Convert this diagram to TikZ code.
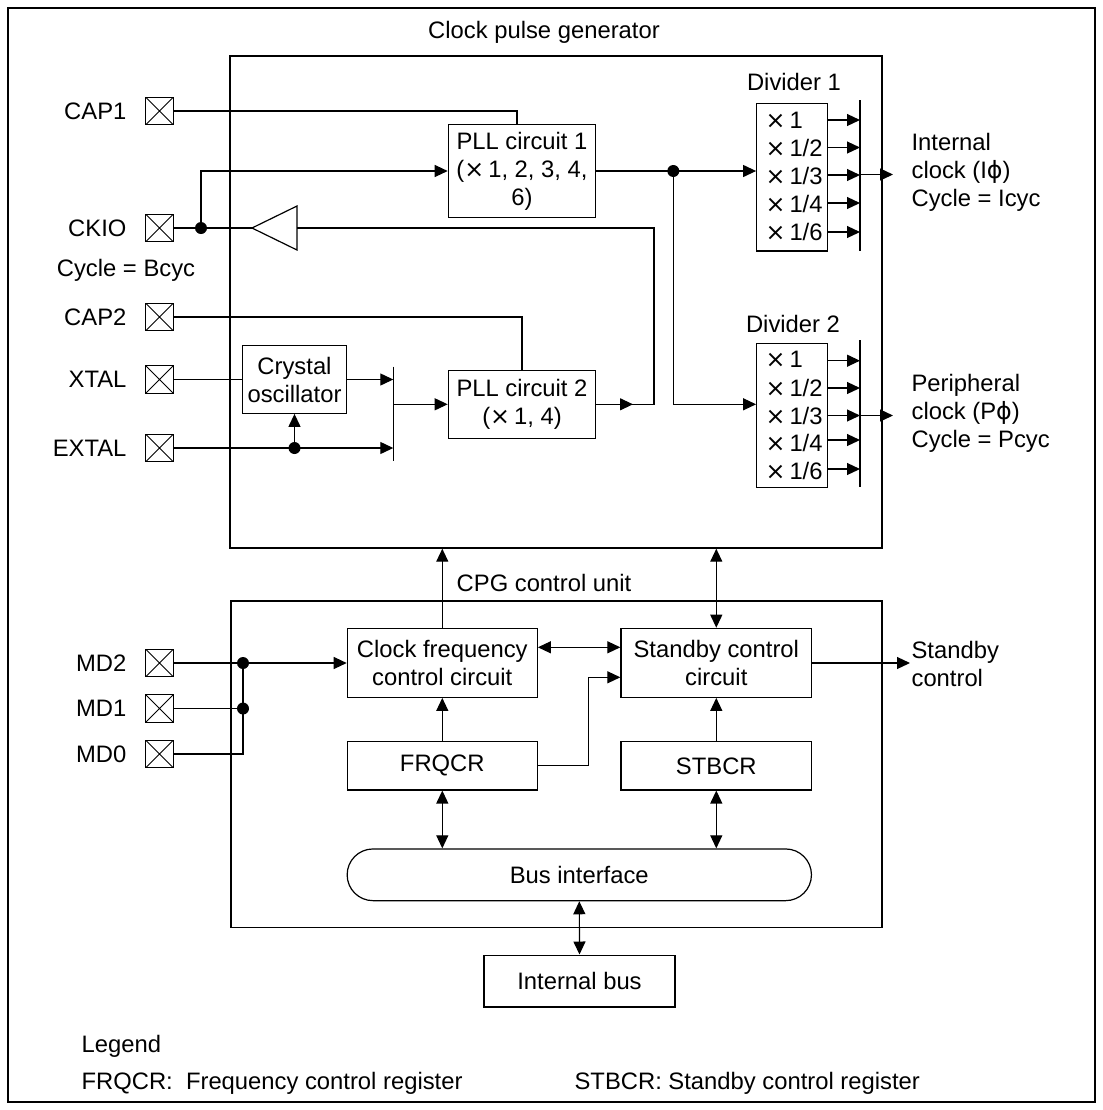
\documentclass[tikz,border=0pt]{standalone}
\usepackage{fontspec}
\setmainfont{Liberation Sans}
\newfontfamily\dvfont{DejaVu Sans}
\usetikzlibrary{arrows.meta,calc}
\newcommand{\tms}{{\dvfont ×}}
\begin{document}
\begin{tikzpicture}[x=0.5pt,y=-0.5pt,line width=0.6pt,
  every node/.style={font=\fontsize{11.9}{14}\selectfont},
  box/.style={draw,line width=0.6pt,inner sep=0pt,align=center},
  frame/.style={draw,line width=0.7pt,inner sep=0pt},
  pinbox/.style={draw,line width=0.6pt,minimum size=13.8pt,inner sep=0pt,
    path picture={\draw[line width=0.5pt] (path picture bounding box.north west)--(path picture bounding box.south east)
      (path picture bounding box.south west)--(path picture bounding box.north east);}},
  txt/.style={inner sep=0pt,align=left},
  arr/.style={-{Triangle[length=6.5pt,width=6pt]}},
  darr/.style={{Triangle[length=6.5pt,width=6pt]}-{Triangle[length=6.5pt,width=6pt]}},
  jdot/.style={circle,fill,inner sep=0pt,minimum size=6pt}]
\useasboundingbox (0,0) rectangle (1103,1110);
\draw[line width=1.1pt] (8,8) rectangle (1095,1102);

% main frames
\node[frame,minimum width=326pt,minimum height=246pt] (cpg) at (556,302) {};
\node[frame,minimum width=325.5pt,minimum height=163.25pt] (ctl) at (556.5,764.25) {};
\node[txt] (tcpg) at (544,32) {Clock pulse generator};
\node[txt] (tctl) at (544,583) {CPG control unit};

% pins and labels
\foreach \n/\t/\y in {cap1/CAP1/111,ckio/CKIO/228,cap2/CAP2/317,xtal/XTAL/379.5,extal/EXTAL/448,md2/MD2/663,md1/MD1/708.5,md0/MD0/754}{
  \node[pinbox] (\n) at (159.5,\y) {};
  \node[txt,anchor=east] (l\n) at (127,\y) {\t};
}
\node[txt] (bcyc) at (126,270) {Cycle = Bcyc};

% boxes
\node[box,minimum width=73.7pt,minimum height=46.7pt] (pll1) at (522,171) {PLL circuit 1\\(\tms\,1, 2, 3, 4,\\6)};
\node[box,minimum width=73.7pt,minimum height=34pt] (pll2) at (522,404.3) {PLL circuit 2\\(\tms\,1, 4)};
\node[box,minimum width=51.65pt,minimum height=33.8pt] (xosc) at (294.5,379.5) {Crystal\\oscillator};
\node[box,minimum width=35.5pt,minimum height=73.85pt] (div1) at (792.2,177.2) {};
\node[box,minimum width=35.5pt,minimum height=72pt] (div2) at (792.2,415.3) {};
\node[txt] (tdiv1) at (794,82) {Divider 1};
\node[txt] (tdiv2) at (793,324) {Divider 2};
\foreach \t/\y [count=\i] in {1/120,1\slash 2/147.5,1\slash 3/175.5,1\slash 4/203.5,1\slash 6/232}{
  \node[txt,anchor=west] (da\i) at (765,\y) {\tms\,\t};
}
\foreach \t/\y [count=\i] in {1/359.5,1\slash 2/387.5,1\slash 3/415.5,1\slash 4/443,1\slash 6/471}{
  \node[txt,anchor=west] (db\i) at (765,\y) {\tms\,\t};
}
\node[txt,anchor=west] (tic) at (911,172) {Internal\\clock (I{\dvfont ϕ})\\Cycle = Icyc};
\node[txt,anchor=west] (tpc) at (911,413) {Peripheral\\clock (P{\dvfont ϕ})\\Cycle = Pcyc};

\node[box,minimum width=95pt,minimum height=34.5pt] (clk) at (442.3,662.8) {Clock frequency\\control circuit};
\node[box,minimum width=95.35pt,minimum height=34.5pt] (stby) at (716.3,662.8) {Standby control\\circuit};
\node[box,minimum width=95pt,minimum height=24.15pt] (frq) at (442.3,765.8) {FRQCR};
\node[box,minimum width=95.35pt,minimum height=24.15pt] (stb) at (716.3,765.8) {STBCR};
\node[box,minimum width=232.15pt,minimum height=25.85pt,rounded corners=12.9pt] (bus) at (579.3,874.8) {Bus interface};
\node[box,minimum width=95.55pt,minimum height=25.9pt] (ibus) at (579.5,981) {Internal bus};
\node[txt,anchor=west] (tsc) at (911,663.8) {Standby\\control};

\node[txt,anchor=west] (tleg) at (81,1046) {Legend};
\node[txt,anchor=west] (tleg1) at (81,1083) {FRQCR:\ \ Frequency control register};
\node[txt,anchor=west] (tleg2) at (574,1083) {STBCR: Standby control register};

% coordinates
\coordinate (ckdot) at (201,228);
\coordinate (bufout) at (252,228);
\coordinate (bufin) at (297,228);
\coordinate (fbtop) at (654,228);
\coordinate (fbbot) at (654,404.3);
\coordinate (pll2mid) at (633,404.3);
\coordinate (exdot) at (294.5,448);
\coordinate (mux1t) at (393.3,366.7);
\coordinate (mux1b) at (393.3,461);
\coordinate (pdot) at (673.3,171);
\coordinate (bar1t) at (860,100);
\coordinate (bar1b) at (860,251);
\coordinate (bar2t) at (860,340);
\coordinate (bar2b) at (860,487);
\coordinate (out1) at (893,174.5);
\coordinate (out2) at (893,415.5);
\coordinate (mdot2) at (243,663);
\coordinate (mdot1) at (243,708.5);
\coordinate (fk) at (588.3,677.3);
\coordinate (sbout) at (910,663);

% buffer triangle
\draw (bufout) -- (297,206) -- (297,250) -- cycle;
% mux bars
\draw (mux1t) -- (mux1b);
\draw (bar1t) -- (bar1b);
\draw (bar2t) -- (bar2b);

% connectors
\draw (cap1.east) -| ($(pll1.north)+(-5,0)$);
\draw (ckio.east) -- (ckdot) -- (bufout);
\draw[arr] (ckdot) |- (pll1.west);
\draw (bufin) -- (fbtop) -- (fbbot) -- (pll2.east);
\draw[arr] (pll2.east) -- (pll2mid);
\draw (cap2.east) -| (pll2.north);
\draw (xtal.east) -- (xosc.west);
\draw[arr] (xosc.east) -- (xosc.east -| mux1t);
\draw[arr] (extal.east) -- (exdot -| mux1t);
\draw[arr] (exdot) -- (xosc.south);
\draw[arr] (pll2.west -| mux1t) -- (pll2.west);
\draw (pll1.east) -- (pdot);
\draw[arr] (pdot) -- (pdot -| div1.west);
\draw[arr] (pdot) |- (pll2.east -| div2.west);
\foreach \y in {120,147.5,175,203,232}{\draw[arr] (div1.east |- 0,\y) -- (bar1t |- 0,\y);}
\foreach \y in {360.7,388,415.5,440,469}{\draw[arr] (div2.east |- 0,\y) -- (bar2t |- 0,\y);}
\draw[arr] (bar1t |- out1) -- (out1);
\draw[arr] (bar2t |- out2) -- (out2);

\draw (md2.east) -- (mdot2);
\draw[arr] (mdot2) -- (mdot2 -| clk.west);
\draw (md1.east) -- (mdot1);
\draw (md0.east) -| (mdot2);
\draw[arr] (clk.north) -- (clk.north |- cpg.south);
\draw[darr] (clk.east |- 0,647.3) -- (stby.west |- 0,647.3);
\draw[arr] (frq.north) -- (clk.south);
\draw[arr] (frq.east) -| (fk) -- (fk -| stby.west);
\draw[darr] (stby.north |- cpg.south) -- (stby.north);
\draw[arr] (stby.east |- sbout) -- (sbout);
\draw[arr] (stb.north) -- (stby.south);
\draw[darr] (frq.south) -- (frq.south |- bus.north);
\draw[darr] (stb.south) -- (stb.south |- bus.north);
\draw[darr] (bus.south) -- (ibus.north);

% junction dots
\node[jdot] (j1) at (ckdot) {};
\node[jdot] (j2) at (exdot) {};
\node[jdot] (j3) at (pdot) {};
\node[jdot] (j4) at (mdot2) {};
\node[jdot] (j5) at (mdot1) {};
\end{tikzpicture}
\end{document}
